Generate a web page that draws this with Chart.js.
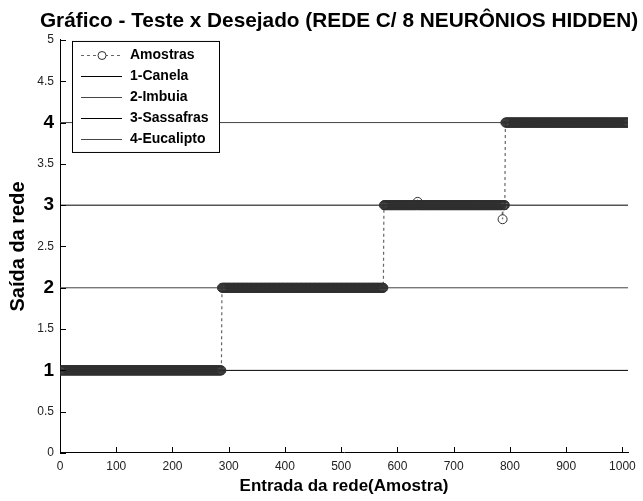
<!DOCTYPE html>
<html>
<head>
<meta charset="utf-8">
<script src="https://cdn.jsdelivr.net/npm/chart.js@4/dist/chart.umd.min.js"></script>
<style>
  html, body { margin: 0; padding: 0; background: #fff; }
  #wrap { width: 643px; height: 501px; }
</style>
</head>
<body>
<div id="wrap"><canvas id="saidaChart" width="643" height="501"></canvas></div>
<script>
// classes and the desired output level for each
const classLabels = ['1-Canela', '2-Imbuia', '3-Sassafras', '4-Eucalipto'];
const classLevels = [1, 2, 3, 4];
// last sample index of each class run (read from the step positions)
const classLastSample = [287, 575, 791, 1010];
// samples where the network output departs from the level
const deviationSamples = [636, 787];
const deviationValues = [3.04, 2.83];

const xMax = 1010;
const xTickValues = [0, 100, 200, 300, 400, 500, 600, 700, 800, 900, 1000];
const yTickValues = [0, 0.5, 1, 1.5, 2, 2.5, 3, 3.5, 4, 4.5, 5];

// network output per sample, run-length expanded from the tables above
const amostras = [];
let start = 1;
classLastSample.forEach((last, i) => {
  for (let s = start; s <= last; s++) {
    const k = deviationSamples.indexOf(s);
    amostras.push({ x: s, y: k >= 0 ? deviationValues[k] : classLevels[i] });
  }
  start = last + 1;
});

const lineColors = ['#000', '#444', '#000', '#444'];
const FONT = "'Liberation Sans', Arial, sans-serif";

Chart.defaults.font.family = FONT;
Chart.defaults.color = '#222';

const datasets = [{
  label: 'Amostras',
  data: amostras,
  showLine: true,
  borderColor: '#666',
  borderWidth: 1.2,
  borderDash: [3, 3],
  pointRadius: 4.5,
  pointBorderWidth: 1,
  pointBorderColor: '#2e2e2e',
  pointBackgroundColor: 'rgba(0,0,0,0)',
}];
classLabels.forEach((lab, i) => {
  datasets.push({
    label: lab,
    data: [{ x: 0, y: classLevels[i] }, { x: xMax, y: classLevels[i] }],
    showLine: true,
    borderColor: lineColors[i],
    borderWidth: 1,
    pointRadius: 0,
  });
});

const isMainLevel = c => !!(c && c.tick && classLevels.includes(c.tick.value));

// inward tick marks like the original plot
const innerTicks = {
  id: 'innerTicks',
  afterDraw(chart) {
    const { ctx, chartArea, scales } = chart;
    ctx.save();
    ctx.strokeStyle = '#000';
    ctx.lineWidth = 1;
    ctx.beginPath();
    scales.x.ticks.forEach(t => {
      const px = Math.round(scales.x.getPixelForValue(t.value)) + 0.5;
      ctx.moveTo(px, chartArea.bottom);
      ctx.lineTo(px, chartArea.bottom - 6);
    });
    scales.y.ticks.forEach(t => {
      const py = Math.round(scales.y.getPixelForValue(t.value)) + 0.5;
      ctx.moveTo(chartArea.left, py);
      ctx.lineTo(chartArea.left + 6, py);
    });
    ctx.stroke();
    ctx.restore();
  }
};

// boxed legend inside the plot, upper left
const boxLegend = {
  id: 'boxLegend',
  afterDraw(chart) {
    const { ctx, chartArea } = chart;
    const x0 = chartArea.left + 12, y0 = chartArea.top + 1;
    const w = 147, rowH = 21, h = 111;
    ctx.save();
    ctx.fillStyle = '#fff';
    ctx.fillRect(x0, y0, w, h);
    ctx.strokeStyle = '#000';
    ctx.lineWidth = 1;
    ctx.strokeRect(x0 + 0.5, y0 + 0.5, w, h);
    ctx.font = 'bold 14px ' + FONT;
    ctx.textBaseline = 'middle';
    chart.data.datasets.forEach((ds, i) => {
      const cy = Math.round(y0 + 14 + i * rowH) + 0.5;
      ctx.strokeStyle = ds.borderColor;
      ctx.lineWidth = 1;
      ctx.setLineDash(ds.borderDash || []);
      ctx.beginPath();
      ctx.moveTo(x0 + 9, cy);
      ctx.lineTo(x0 + 50, cy);
      ctx.stroke();
      ctx.setLineDash([]);
      if (ds.pointRadius) {
        ctx.fillStyle = '#fff';
        ctx.strokeStyle = ds.pointBorderColor;
        ctx.beginPath();
        ctx.arc(x0 + 30, cy, 4, 0, Math.PI * 2);
        ctx.fill();
        ctx.stroke();
      }
      ctx.fillStyle = '#000';
      ctx.fillText(ds.label, x0 + 58, cy);
    });
    ctx.restore();
  }
};

new Chart(document.getElementById('saidaChart'), {
  type: 'scatter',
  data: { datasets },
  plugins: [innerTicks, boxLegend],
  options: {
    responsive: false,
    animation: false,
    events: [],
    // asymmetric padding so the full-width title sits where the original has it
    layout: { padding: { left: 35, right: 0, top: 0, bottom: 0 } },
    scales: {
      x: {
        type: 'linear',
        min: 0,
        max: xMax,
        grid: { display: false, drawTicks: false },
        border: { display: true, color: '#000', width: 1 },
        afterBuildTicks: s => { s.ticks = xTickValues.map(v => ({ value: v })); },
        ticks: {
          autoSkip: false,
          maxRotation: 0,
          padding: 6,
          color: '#222',
          font: { size: 12 },
          callback: v => String(v),
        },
        title: {
          display: true,
          text: 'Entrada da rede(Amostra)',
          color: '#000',
          font: { size: 17, weight: 'bold' },
          padding: { top: 2, bottom: 4 },
        },
        afterFit: s => { s.height = 48; },
      },
      y: {
        min: 0,
        max: 5,
        grid: { display: false, drawTicks: false },
        border: { display: true, color: '#000', width: 1 },
        afterBuildTicks: s => { s.ticks = yTickValues.map(v => ({ value: v })); },
        ticks: {
          autoSkip: false,
          padding: 6,
          color: c => isMainLevel(c) ? '#000' : '#222',
          font: c => isMainLevel(c) ? { size: 19, weight: 'bold' } : { size: 12 },
          callback: v => String(v),
        },
        title: {
          display: true,
          text: 'Saída da rede',
          color: '#000',
          font: { size: 20, weight: 'bold' },
          padding: { top: -29, bottom: 0 },
        },
        afterFit: s => { s.width = 25; },
      },
      yRight: {
        position: 'right',
        grid: { display: false, drawTicks: false },
        border: { display: false },
        ticks: { display: false },
        afterFit: s => { s.width = 15; },
      },
    },
    plugins: {
      legend: { display: false },
      tooltip: { enabled: false },
      title: {
        display: true,
        text: 'Gráfico - Teste x Desejado (REDE C/ 8 NEURÔNIOS HIDDEN)',
        color: '#000',
        font: { size: 20.8, weight: 'bold' },
        padding: { top: 9, bottom: 6 },
      },
    },
  },
});
</script>
</body>
</html>
